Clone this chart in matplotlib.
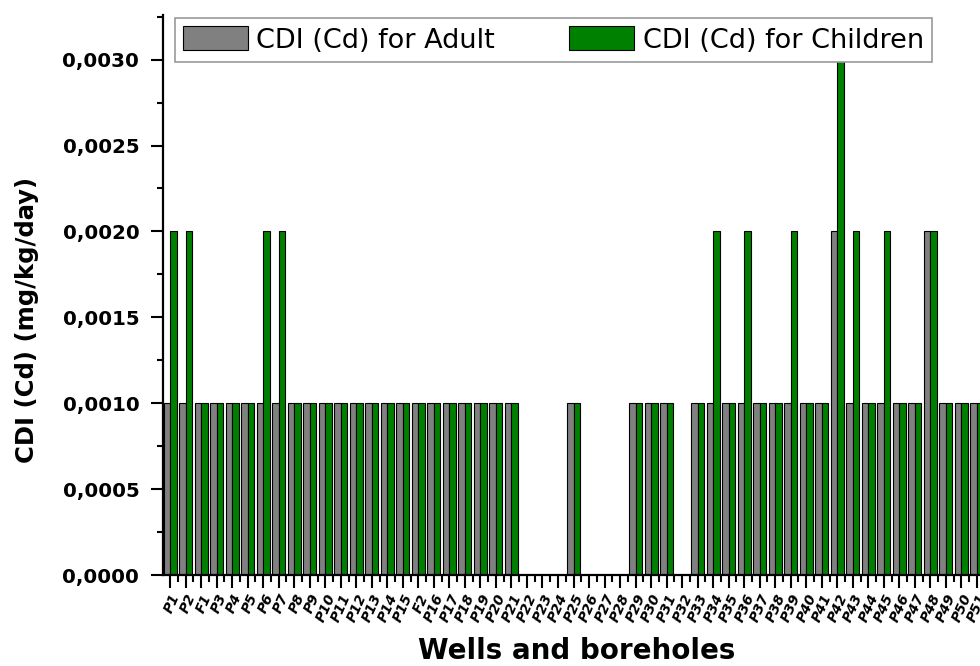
import matplotlib
matplotlib.use("Agg")
import matplotlib.pyplot as plt
import numpy as np
from matplotlib.ticker import MultipleLocator, FuncFormatter, FixedLocator

plt.rcParams['font.family'] = ['DejaVu Sans']

wells = ["P1", "P2", "F1", "P3", "P4", "P5", "P6", "P7", "P8", "P9", "P10",
         "P11", "P12", "P13", "P14", "P15", "F2", "P16", "P17", "P18", "P19",
         "P20", "P21", "P22", "P23", "P24", "P25", "P26", "P27", "P28", "P29",
         "P30", "P31", "P32", "P33", "P34", "P35", "P36", "P37", "P38", "P39",
         "P40", "P41", "P42", "P43", "P44", "P45", "P46", "P47", "P48", "P49",
         "P50", "P51"]

cdi_adult = [0.001, 0.001, 0.001, 0.001, 0.001, 0.001, 0.001, 0.001, 0.001, 0.001, 0.001,
             0.001, 0.001, 0.001, 0.001, 0.001, 0.001, 0.001, 0.001, 0.001, 0.001,
             0.001, 0.001, 0.0, 0.0, 0.0, 0.001, 0.0, 0.0, 0.0, 0.001,
             0.001, 0.001, 0.0, 0.001, 0.001, 0.001, 0.001, 0.001, 0.001, 0.001,
             0.001, 0.001, 0.002, 0.001, 0.001, 0.001, 0.001, 0.001, 0.002, 0.001,
             0.001, 0.001]

cdi_children = [0.002, 0.002, 0.001, 0.001, 0.001, 0.001, 0.002, 0.002, 0.001, 0.001, 0.001,
                0.001, 0.001, 0.001, 0.001, 0.001, 0.001, 0.001, 0.001, 0.001, 0.001,
                0.001, 0.001, 0.0, 0.0, 0.0, 0.001, 0.0, 0.0, 0.0, 0.001,
                0.001, 0.001, 0.0, 0.001, 0.002, 0.001, 0.002, 0.001, 0.001, 0.002,
                0.001, 0.001, 0.003, 0.002, 0.001, 0.002, 0.001, 0.001, 0.002, 0.001,
                0.001, 0.001]

fig = plt.figure(figsize=(9.8, 6.66), dpi=100)
ax = fig.add_axes([0.1663, 0.1366, 1.0 - 0.1663, 0.9775 - 0.1366])

x = np.arange(len(wells))
w = 0.42
ax.bar(x - w / 2, cdi_adult, width=w, color="#808080", edgecolor="black",
       linewidth=0.8, label="CDI (Cd) for Adult")
ax.bar(x + w / 2, cdi_children, width=w, color="#008000", edgecolor="black",
       linewidth=0.8, label="CDI (Cd) for Children")

ax.set_xlim(-0.46, 52.2)
ax.set_ylim(0, 0.00326)

ax.spines['top'].set_visible(False)
ax.spines['right'].set_visible(False)
ax.spines['left'].set_linewidth(1.6)
ax.spines['bottom'].set_linewidth(1.6)

ax.set_xticks(x)
ax.set_xticklabels(wells, rotation=66, ha='right', rotation_mode='anchor',
                   fontsize=10, fontweight='bold', fontstyle='italic')
ax.xaxis.set_minor_locator(FixedLocator(x[:-1] + 0.5))
ax.yaxis.set_major_locator(MultipleLocator(0.0005))
ax.yaxis.set_minor_locator(MultipleLocator(0.00025))
ax.yaxis.set_major_formatter(FuncFormatter(lambda v, p: f"{v:.4f}".replace('.', ',')))
ax.tick_params(axis='y', which='major', length=9, width=1.5, labelsize=14.2, pad=8)
ax.tick_params(axis='y', which='minor', length=4.5, width=1.5)
ax.tick_params(axis='x', which='major', length=9, width=1.5, pad=3)
ax.tick_params(axis='x', which='minor', length=5, width=1.5)
for lbl in ax.get_yticklabels():
    lbl.set_fontweight('bold')

ax.set_ylabel("CDI (Cd) (mg/kg/day)", fontsize=17.5, fontweight='bold')
ax.yaxis.set_label_coords(-0.152, 0.455)
ax.set_xlabel("Wells and boreholes", fontsize=20, fontweight='bold')
ax.xaxis.set_label_coords(0.506, -0.111)

leg = ax.legend(loc='upper left', bbox_to_anchor=(0.0147, 0.9946), ncol=2,
                fontsize=19.5, frameon=True, fancybox=False, framealpha=1,
                edgecolor='#999999', handlelength=2.4, handleheight=1.0,
                handletextpad=0.3, columnspacing=2.75, borderpad=0.3,
                borderaxespad=0)
leg.get_frame().set_linewidth(1.2)

fig.savefig("out.png", dpi=100)
